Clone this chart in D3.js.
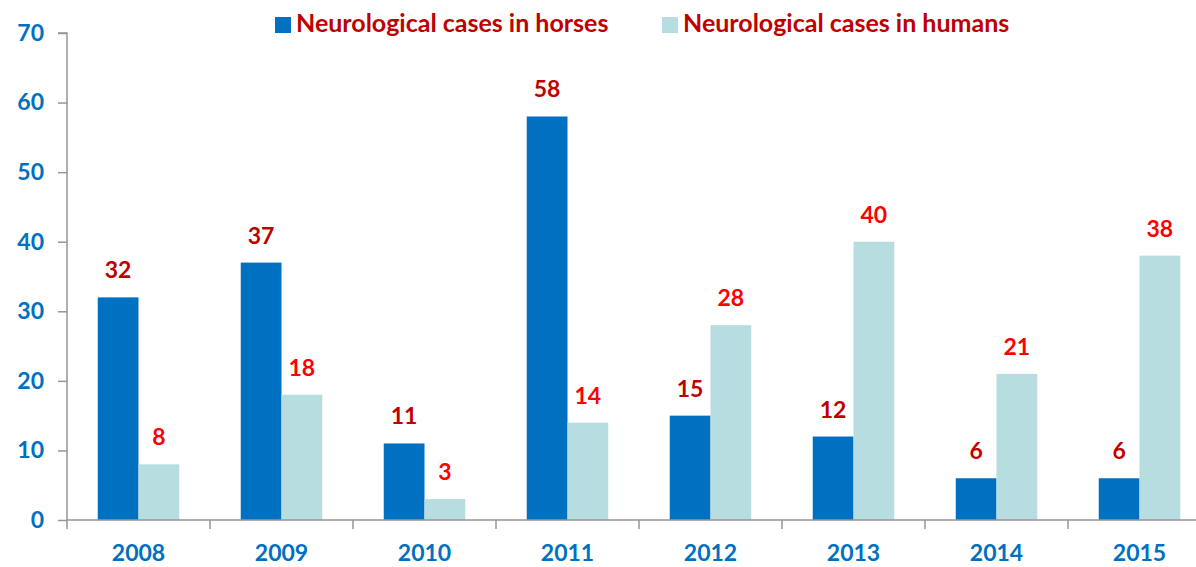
<!DOCTYPE html>
<html>
<head>
<meta charset="utf-8">
<script src="https://cdn.jsdelivr.net/npm/d3@7"></script>
<style>
  body { margin: 0; background: #fff; }
  svg { display: block; }
  text { font-family: Lato, "Open Sans", sans-serif; font-weight: bold; }
</style>
</head>
<body>
<svg id="chart"></svg>
<script>
// Data
var years = ["2008", "2009", "2010", "2011", "2012", "2013", "2014", "2015"];
var horses = [32, 37, 11, 58, 15, 12, 6, 6];
var humans = [8, 18, 3, 14, 28, 40, 21, 38];
var yTicks = [0, 10, 20, 30, 40, 50, 60, 70];
var seriesNames = ["Neurological cases in horses", "Neurological cases in humans"];

var width = 1196, height = 567;
var marginLeft = 67, plotBottom = 520, plotTop = 33;
var blue = "#0070C0", light = "#B7DDE0";

var svg = d3.select("#chart").attr("width", width).attr("height", height);

// x spans past the right edge, like the cropped original
var x = d3.scaleBand().domain(years).range([marginLeft, marginLeft + 143 * years.length])
    .paddingInner(0.43).paddingOuter(0.215);
var step = x.step();
var y = d3.scaleLinear().domain([0, 70]).range([plotBottom, plotTop]);

// y axis
var yAxis = svg.append("g").attr("transform", "translate(" + marginLeft + ",0)")
    .call(d3.axisLeft(y).tickValues(yTicks).tickSize(9).tickPadding(14));
yAxis.select(".domain").attr("stroke", "#969696").attr("stroke-width", 1.5).attr("d", "M-9," + y(70) + "H0V" + y(0));
yAxis.selectAll(".tick line").attr("stroke", "#969696").attr("stroke-width", 1.5);
yAxis.selectAll(".tick text").attr("fill", blue).style("font-size", "23px").style("font-weight", "bold")
    .style("font-family", "Lato, 'Open Sans', sans-serif");

// bars
var bw = x.bandwidth() / 2;
var groups = svg.append("g").selectAll("g").data(years).enter().append("g");
groups.append("rect")
    .attr("x", function (d) { return x(d); })
    .attr("y", function (d, i) { return y(horses[i]); })
    .attr("width", bw)
    .attr("height", function (d, i) { return y(0) - y(horses[i]); })
    .attr("fill", blue);
groups.append("rect")
    .attr("x", function (d) { return x(d) + bw; })
    .attr("y", function (d, i) { return y(humans[i]); })
    .attr("width", bw)
    .attr("height", function (d, i) { return y(0) - y(humans[i]); })
    .attr("fill", light);

// value labels
groups.append("text")
    .attr("x", function (d) { return x(d) + bw / 2; })
    .attr("y", function (d, i) { return y(horses[i]) - 19; })
    .attr("text-anchor", "middle").attr("fill", "#C00000").style("font-size", "23px")
    .text(function (d, i) { return horses[i]; });
groups.append("text")
    .attr("x", function (d) { return x(d) + bw * 1.5; })
    .attr("y", function (d, i) { return y(humans[i]) - 19; })
    .attr("text-anchor", "middle").attr("fill", "#FF0000").style("font-size", "23px")
    .text(function (d, i) { return humans[i]; });

// x axis
var xg = svg.append("g");
xg.append("line").attr("x1", marginLeft).attr("x2", marginLeft + step * years.length)
    .attr("y1", plotBottom).attr("y2", plotBottom).attr("stroke", "#969696").attr("stroke-width", 1.5);
xg.selectAll("line.tk").data(years).enter().append("line").attr("class", "tk")
    .attr("x1", function (d) { return x(d) - x.paddingOuter() * step; })
    .attr("x2", function (d) { return x(d) - x.paddingOuter() * step; })
    .attr("y1", plotBottom).attr("y2", plotBottom + 9)
    .attr("stroke", "#969696").attr("stroke-width", 1.5);
xg.selectAll("text").data(years).enter().append("text")
    .attr("x", function (d) { return x(d) + x.bandwidth() / 2; })
    .attr("y", 561).attr("text-anchor", "middle").attr("fill", blue).style("font-size", "23px")
    .text(function (d) { return d; });

// legend
var legendX = [275, 662];
var legend = svg.append("g").selectAll("g").data(seriesNames).enter().append("g")
    .attr("transform", function (d, i) { return "translate(" + legendX[i] + ",0)"; });
legend.append("rect").attr("x", 0).attr("y", 17).attr("width", 16).attr("height", 16)
    .attr("fill", function (d, i) { return i === 0 ? blue : light; });
legend.append("text").attr("x", 21).attr("y", 32).attr("fill", "#C00000").style("font-size", "25px")
    .text(function (d) { return d; });
</script>
</body>
</html>
